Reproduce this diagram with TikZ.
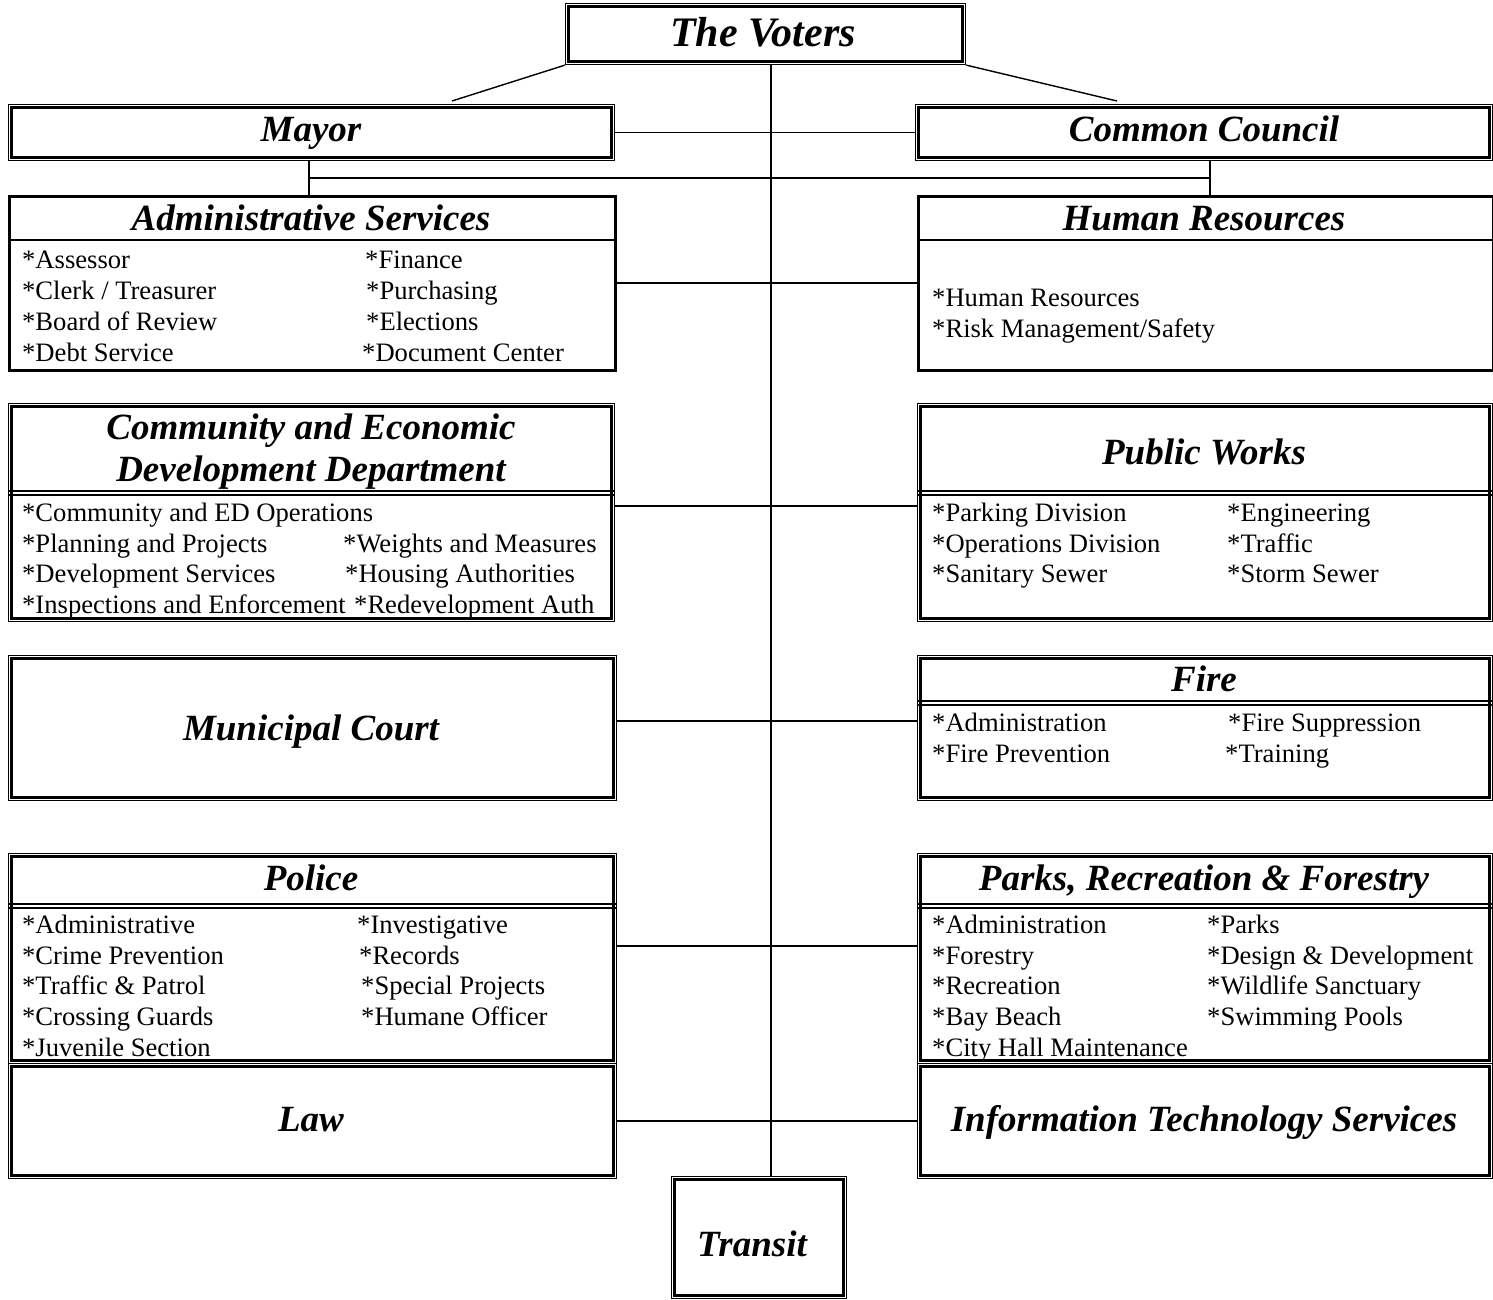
\documentclass[tikz,border=0pt]{standalone}
\usepackage{fontspec}
\setmainfont{Liberation Serif}
\begin{document}
\begin{tikzpicture}[x=1pt,y=-1pt,
  conn/.style={line width=1.4pt},
  sbox/.style={draw, line width=3pt, rectangle, anchor=north west, inner sep=0pt},
  dbox/.style={draw, line width=1.1pt, rectangle, anchor=north west, inner sep=0pt,
    path picture={\draw[line width=2.4pt] ([xshift=3pt,yshift=-3pt]path picture bounding box.north west) rectangle ([xshift=-3pt,yshift=3pt]path picture bounding box.south east);}},
  ttl/.style={font=\fontsize{37}{40}\selectfont\bfseries\itshape, anchor=base, inner sep=0pt},
  itm/.style={font=\fontsize{26.6}{31}\selectfont, anchor=base west, inner sep=0pt},
  thickdiv/.style={line width=2.6pt},
  thindiv/.style={line width=1.1pt}]
\useasboundingbox (0,0) rectangle (1493,1300);

% ---------- boxes ----------
\node[dbox, minimum width=400pt, minimum height=61pt] (voters) at (565,3) {};
\node[dbox, minimum width=606pt, minimum height=56pt] (mayor) at (8,104) {};
\node[dbox, minimum width=577pt, minimum height=56pt] (council) at (915,104) {};
\node[sbox, minimum width=606pt, minimum height=174pt] (adm) at (8,195) {};
\node[sbox, minimum width=575pt, minimum height=174pt] (hr) at (917,195) {};
\node[dbox, minimum width=606pt, minimum height=218pt] (com) at (8,403) {};
\node[dbox, minimum width=575pt, minimum height=218pt] (pw) at (917,403) {};
\node[dbox, minimum width=608pt, minimum height=145pt] (court) at (8,655) {};
\node[dbox, minimum width=575pt, minimum height=145pt] (fire) at (917,655) {};
\node[dbox, minimum width=608pt, minimum height=210pt] (police) at (8,853) {};
\node[dbox, minimum width=575pt, minimum height=210pt] (parks) at (917,853) {};
\node[dbox, minimum width=608pt, minimum height=115pt] (law) at (8,1063) {};
\node[dbox, minimum width=575pt, minimum height=115pt] (it) at (917,1063) {};
\node[dbox, minimum width=175pt, minimum height=122pt] (transit) at (671,1176) {};

% ---------- header dividers ----------
\draw[thickdiv] ([yshift=-45pt]adm.north west) -- ([yshift=-45pt]adm.north east);
\draw[thickdiv] ([yshift=-45pt]hr.north west) -- ([yshift=-45pt]hr.north east);
\foreach \b/\d in {com/88, pw/88, fire/46, police/51, parks/51}{
  \draw[thickdiv] ([yshift=-\d pt]\b.north west) -- ([yshift=-\d pt]\b.north east);
  \draw[thindiv] ([yshift=-\d pt-4pt]\b.north west) -- ([yshift=-\d pt-4pt]\b.north east);
}

% ---------- titles ----------
\node[ttl, font=\fontsize{42}{46}\selectfont\bfseries\itshape] (tvoters) at (763,47) {The Voters};
\node[ttl] (tmayor) at (311,142) {Mayor};
\node[ttl] (tcouncil) at (1204,142) {Common Council};
\node[ttl] (tadm) at (311,230) {Administrative Services};
\node[ttl] (thr) at (1204,230) {Human Resources};
\node[ttl] (tcom1) at (311,439) {Community and Economic};
\node[ttl] (tcom2) at (311,481) {Development Department};
\node[ttl] (tpw) at (1204,464) {Public Works};
\node[ttl] (tcourt) at (311,740) {Municipal Court};
\node[ttl] (tfire) at (1204,691) {Fire};
\node[ttl] (tpolice) at (311,890) {Police};
\node[ttl] (tparks) at (1204,890) {Parks, Recreation \& Forestry};
\node[ttl] (tlaw) at (311,1131) {Law};
\node[ttl] (tit) at (1204,1131) {Information Technology Services};
\node[ttl] (ttransit) at (752,1256) {Transit};

% ---------- items ----------
\foreach \t [count=\i] in {*Assessor, *Clerk / Treasurer, *Board of Review, *Debt Service}
  \node[itm] (admL\i) at (22,{268.5+(\i-1)*31}) {\t};
\foreach \x/\t [count=\i] in {365/*Finance, 366/*Purchasing, 366/*Elections, 362/*Document Center}
  \node[itm] (admR\i) at (\x,{268.5+(\i-1)*31}) {\t};

\foreach \t [count=\i] in {*Human Resources, *Risk Management/Safety}
  \node[itm] (hrL\i) at (932,{306.5+(\i-1)*31}) {\t};

\foreach \t [count=\i] in {*Community and ED Operations, *Planning and Projects, *Development Services, *Inspections and Enforcement}
  \node[itm] (comL\i) at (22,{521.5+(\i-1)*30.7}) {\t};
\foreach \x/\t [count=\i] in {343/*Weights and Measures, 345/*Housing Authorities, 354/*Redevelopment Auth}
  \node[itm] (comR\i) at (\x,{552.2+(\i-1)*30.7}) {\t};

\foreach \t [count=\i] in {*Parking Division, *Operations Division, *Sanitary Sewer}
  \node[itm] (pwL\i) at (932,{521.5+(\i-1)*30.7}) {\t};
\foreach \t [count=\i] in {*Engineering, *Traffic, *Storm Sewer}
  \node[itm] (pwR\i) at (1227,{521.5+(\i-1)*30.7}) {\t};

\foreach \t [count=\i] in {*Administration, *Fire Prevention}
  \node[itm] (fireL\i) at (932,{731.5+(\i-1)*31}) {\t};
\foreach \x/\t [count=\i] in {1228/*Fire Suppression, 1225/*Training}
  \node[itm] (fireR\i) at (\x,{731.5+(\i-1)*31}) {\t};

\foreach \t [count=\i] in {*Administrative, *Crime Prevention, *Traffic \& Patrol, *Crossing Guards, *Juvenile Section}
  \node[itm] (polL\i) at (22,{933.5+(\i-1)*30.7}) {\t};
\foreach \x/\t [count=\i] in {357/*Investigative, 359/*Records, 361/*Special Projects, 361/*Humane Officer}
  \node[itm] (polR\i) at (\x,{933.5+(\i-1)*30.7}) {\t};

\foreach \t [count=\i] in {*Administration, *Forestry, *Recreation, *Bay Beach, *City Hall Maintenance}
  \node[itm] (parL\i) at (932,{933.5+(\i-1)*30.7}) {\t};
\foreach \t [count=\i] in {*Parks, *Design \& Development, *Wildlife Sanctuary, *Swimming Pools}
  \node[itm] (parR\i) at (1207,{933.5+(\i-1)*30.7}) {\t};

% ---------- connectors ----------
\coordinate (tx) at (771,0);
\coordinate (mtip) at (452,101);
\coordinate (ctip) at (1117,101);
\coordinate (ml) at (309,178);
\coordinate (mr) at (1210,178);
\draw[conn] (voters.south west) -- (mtip);
\draw[conn] (voters.south east) -- (ctip);
\draw[conn] (voters.south -| tx) -- (transit.north -| tx);
\draw[conn] (mayor.east) -- (council.west);
\draw[conn] (mayor.south -| ml) -- (adm.north -| ml);
\draw[conn] (council.south -| mr) -- (hr.north -| mr);
\draw[conn] (ml) -- (mr);
\draw[conn] (adm.east |- 0,283) -- (hr.west |- 0,283);
\draw[conn] (com.east |- 0,506) -- (pw.west |- 0,506);
\draw[conn] (court.east |- 0,721) -- (fire.west |- 0,721);
\draw[conn] (police.east |- 0,946) -- (parks.west |- 0,946);
\draw[conn] (law.east |- 0,1121) -- (it.west |- 0,1121);
\end{tikzpicture}
\end{document}
